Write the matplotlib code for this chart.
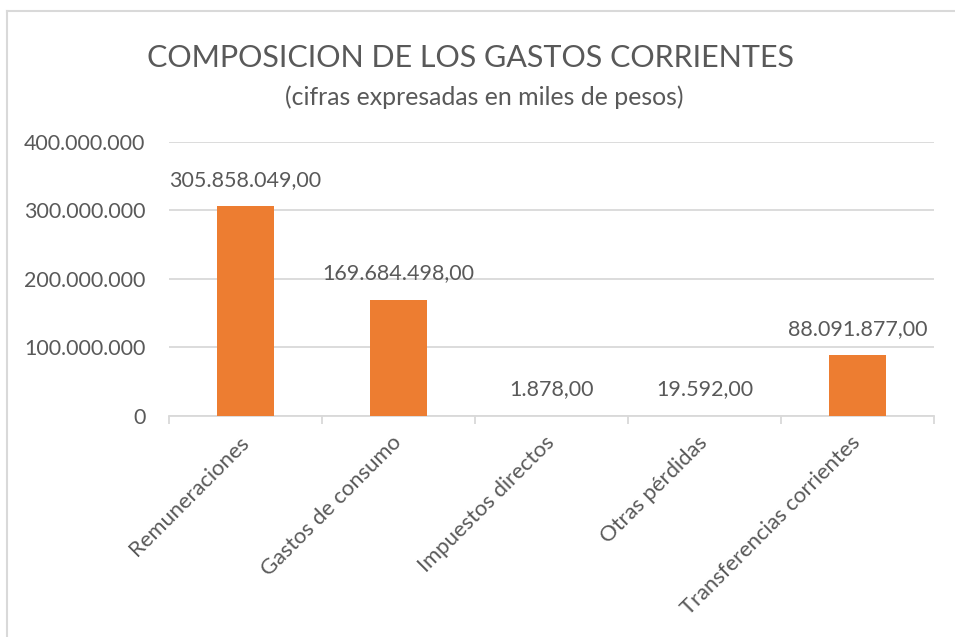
import matplotlib
matplotlib.use("Agg")
import matplotlib.pyplot as plt
from matplotlib.lines import Line2D
import numpy as np

categories = ["Remuneraciones", "Gastos de consumo", "Impuestos directos",
              "Otras pérdidas", "Transferencias corrientes"]
values = [305858049.00, 169684498.00, 1878.00, 19592.00, 88091877.00]
value_labels = ["305.858.049,00", "169.684.498,00", "1.878,00", "19.592,00", "88.091.877,00"]
y_ticks = [0, 100000000, 200000000, 300000000, 400000000]
y_tick_labels = ["0", "100.000.000", "200.000.000", "300.000.000", "400.000.000"]
title = "COMPOSICION DE LOS GASTOS CORRIENTES"
subtitle = "(cifras expresadas en miles de pesos)"

plt.rcParams['font.family'] = ['Lato', 'DejaVu Sans']
TXT = "#595959"
GRID = "#D9D9D9"
BAR = "#ED7D31"

W, H = 955, 637
fig = plt.figure(figsize=(W / 100, H / 100), dpi=100)
ax = fig.add_axes([169 / W, 1 - 415.7 / H, (934 - 169) / W, (415.7 - 142) / H])

x = np.arange(len(categories))
ax.bar(x, values, width=0.373, color=BAR, zorder=3)
ax.set_xlim(-0.5, len(categories) - 0.5)
ax.set_ylim(0, 400000000)

ax.set_yticks(y_ticks)
ax.set_yticklabels(y_tick_labels, fontsize=15.4, color=TXT)
ax.tick_params(axis='y', length=0, pad=17)
ax.yaxis.grid(True, color=GRID, linewidth=1.3, zorder=0)

ax.set_xticks(x)
ax.set_xticklabels(categories, rotation=45, ha='right', va='center',
                   rotation_mode='anchor', fontsize=15.8, color=TXT)
ax.tick_params(axis='x', which='major', length=0, pad=17)
ax.set_xticks(np.arange(-0.5, len(categories), 1.0), minor=True)
ax.tick_params(axis='x', which='minor', length=6, width=1.3, color=GRID)

for s in ['top', 'right', 'left']:
    ax.spines[s].set_visible(False)
ax.spines['bottom'].set_color(GRID)
ax.spines['bottom'].set_linewidth(1.3)

for xi, v, lab in zip(x, values, value_labels):
    ax.annotate(lab, (xi, v), xytext=(0, 19), textcoords='offset points',
                ha='center', va='center', fontsize=15.5, color=TXT)

fig.text(470 / W, 1 - 58 / H, title, ha='center', va='center', fontsize=22,
         color=TXT)
fig.text(484 / W, 1 - 97 / H, subtitle, ha='center', va='center', fontsize=17.9,
         color=TXT)

# outer chart border (left and top edges visible)
fig.add_artist(Line2D([7 / W, 7 / W], [0, 1 - 11 / H], transform=fig.transFigure,
                      color=GRID, linewidth=1.5))
fig.add_artist(Line2D([7 / W, 1], [1 - 11 / H, 1 - 11 / H], transform=fig.transFigure,
                      color=GRID, linewidth=1.5))

fig.savefig("out.png", dpi=100, facecolor="white")
